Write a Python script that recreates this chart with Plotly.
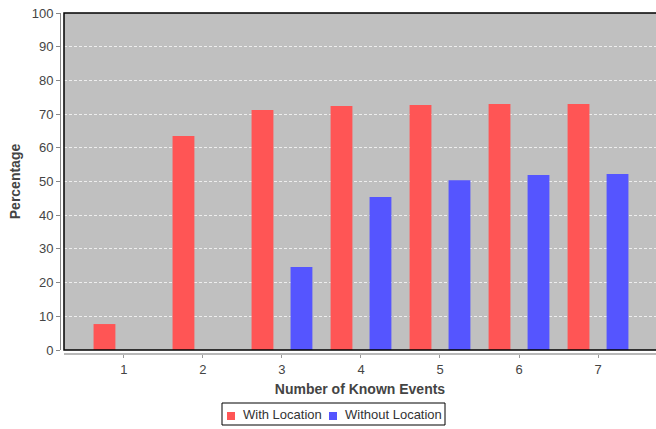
import plotly.graph_objects as go

categories = [1, 2, 3, 4, 5, 6, 7]
with_location = [7.7, 63.5, 71.2, 72.4, 72.7, 73.0, 73.0]
without_location = [0, 0, 24.6, 45.4, 50.4, 51.9, 52.2]
y_ticks = [0, 10, 20, 30, 40, 50, 60, 70, 80, 90, 100]
series_names = ["With Location", "Without Location"]
series_colors = ["#ff5555", "#5555ff"]

W, H = 656, 429
ml, mr, mt, mb = 60, 0, 13, 75
pw, ph = W - ml - mr, H - mt - mb
dx0 = 4 / pw
dy0 = 4 / ph

fig = go.Figure()
for name, vals, col in zip(series_names, [with_location, without_location], series_colors):
    fig.add_trace(go.Bar(x=categories, y=vals, name=name,
                         marker=dict(color=col, line=dict(width=0))))

font = "Liberation Sans, Arial, sans-serif"
fig.update_layout(
    width=W, height=H,
    margin=dict(l=ml, r=mr, t=mt, b=mb, pad=0, autoexpand=False),
    paper_bgcolor="white",
    plot_bgcolor="#c0c0c0",
    barmode="group",
    bargap=0.013,
    bargroupgap=0.44,
    font=dict(family=font, size=12, color="#444444"),
    showlegend=False,
    xaxis=dict(domain=[dx0, 1], range=[0.241, 7.734], anchor="free", position=0,
               automargin=False,
               tickmode="array", tickvals=categories, ticktext=[str(c) for c in categories],
               showgrid=False, zeroline=False,
               showline=True, linecolor="#b8b8b8", linewidth=2,
               ticks="outside", ticklen=3, tickcolor="#999999", tickwidth=1,
               tickfont=dict(size=13, color="#444444"),
               title=dict(text="<b>Number of Known Events</b>", standoff=8,
                          font=dict(size=14, color="#444444"))),
    yaxis=dict(domain=[dy0, 1], range=[0, 100], anchor="free", position=0,
               automargin=False,
               tickmode="array", tickvals=y_ticks,
               showgrid=True, gridcolor="#eeeeee", griddash="3px,2px", gridwidth=1,
               zeroline=False,
               showline=True, linecolor="#888888", linewidth=1,
               ticks="outside", ticklen=4, tickcolor="#888888", tickwidth=1,
               tickfont=dict(size=13, color="#444444"),
               title=dict(text="<b>Percentage</b>", standoff=6,
                          font=dict(size=14, color="#444444"))),
)

fig.add_shape(type="rect", xref="paper", yref="paper",
              x0=dx0, x1=1.01, y0=dy0, y1=1,
              line=dict(color="black", width=1.5), fillcolor="rgba(0,0,0,0)", layer="above")

# custom legend (pixel-based positions converted to paper coords)
def px(x):
    return (x - ml) / pw

def py(y):
    return (H - mb - y) / ph

fig.add_shape(type="rect", xref="paper", yref="paper",
              x0=px(222), x1=px(445), y0=py(425), y1=py(403),
              line=dict(color="black", width=1), fillcolor="white")
legend_items = [(227, 241), (329, 343)]
for (sx, tx), name, col in zip(legend_items, series_names, series_colors):
    fig.add_shape(type="rect", xref="paper", yref="paper",
                  x0=px(sx), x1=px(sx + 8), y0=py(420), y1=py(412),
                  line=dict(width=0), fillcolor=col)
    fig.add_annotation(xref="paper", yref="paper", x=px(tx), y=py(414),
                       text=name, showarrow=False, xanchor="left", yanchor="middle",
                       font=dict(family=font, size=13, color="#333333"))

fig.write_html("out.html", config={"displayModeBar": False},
               post_script="document.body.style.margin='0';")
